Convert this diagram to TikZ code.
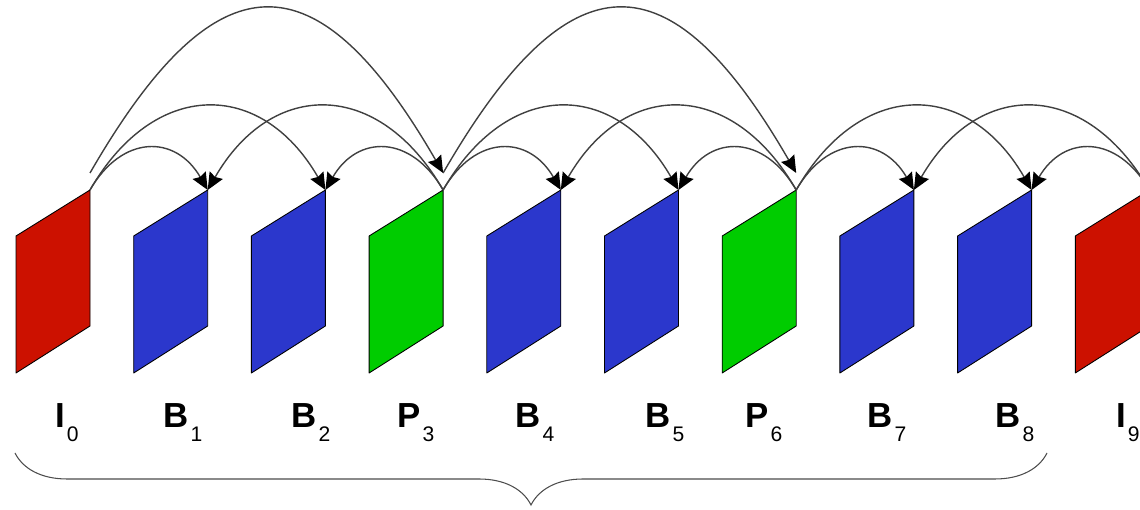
\documentclass[tikz,border=0pt]{standalone}
\usepackage{fontspec}
\setmainfont{Liberation Sans}
\usetikzlibrary{arrows.meta,decorations.pathreplacing}
\definecolor{iframe}{RGB}{204,17,0}
\definecolor{bframe}{RGB}{43,55,204}
\definecolor{pframe}{RGB}{0,204,0}
\begin{document}
\begin{tikzpicture}[x=1cm,y=1cm,
  frm/.style={draw=black,line width=0.5pt,line join=round},
  lbl/.style={anchor=base,inner sep=0pt,font=\fontsize{19.8}{22}\selectfont\bfseries},
  arc/.style={draw=black!75,line width=0.8pt,-{Stealth[length=3.4mm,width=3mm,inset=0.4mm,color=black]}},
  gop/.style={decorate,decoration={brace,mirror,amplitude=1.04cm},draw=black!70,line width=0.6pt}]
  \clip (0,0) rectangle (22.8,10.2);
  % frames of one GOP, with the next I frame
  \foreach \i/\t/\c/\lx in {0/I/iframe/1.34,1/B/bframe/3.66,2/B/bframe/6.22,3/P/pframe/8.32,4/B/bframe/10.70,
                            5/B/bframe/13.30,6/P/pframe/15.28,7/B/bframe/17.74,8/B/bframe/20.30,9/I/iframe/22.56}{
    \pgfmathsetmacro{\xA}{0.32+2.354*\i}\pgfmathsetmacro{\xB}{\xA+1.48}
    \filldraw[frm,fill=\c] (\xA,5.48)--(\xB,6.40)--(\xB,3.68)--(\xA,2.74)--cycle;
    \coordinate (f\i) at (\xB,6.40);
    \coordinate (t\i) at (\xB,6.74);
    \node[lbl] (l\i) at (\lx,1.64) {\t\kern1pt\raisebox{-0.28cm}{\fontsize{12}{14}\selectfont\mdseries\i}};
  }
  % references
  \foreach \a/\b in {0/1,0/2,3/4,3/5,6/7,6/8}{\draw[arc] (f\a) to[out=60,in=120,looseness=1.4] (f\b);}
  \foreach \a/\b in {3/2,3/1,6/5,6/4,9/8,9/7}{\draw[arc] (f\a) to[out=120,in=60,looseness=1.4] (f\b);}
  \foreach \a/\b in {0/3,3/6}{\draw[arc] (t\a) to[out=60,in=120,looseness=1.84] (t\b);}
  % GOP
  \coordinate (gopL) at (0.30,1.14);
  \coordinate (gopR) at (20.94,1.14);
  \draw[gop] (gopL) -- (gopR);
\end{tikzpicture}
\end{document}
